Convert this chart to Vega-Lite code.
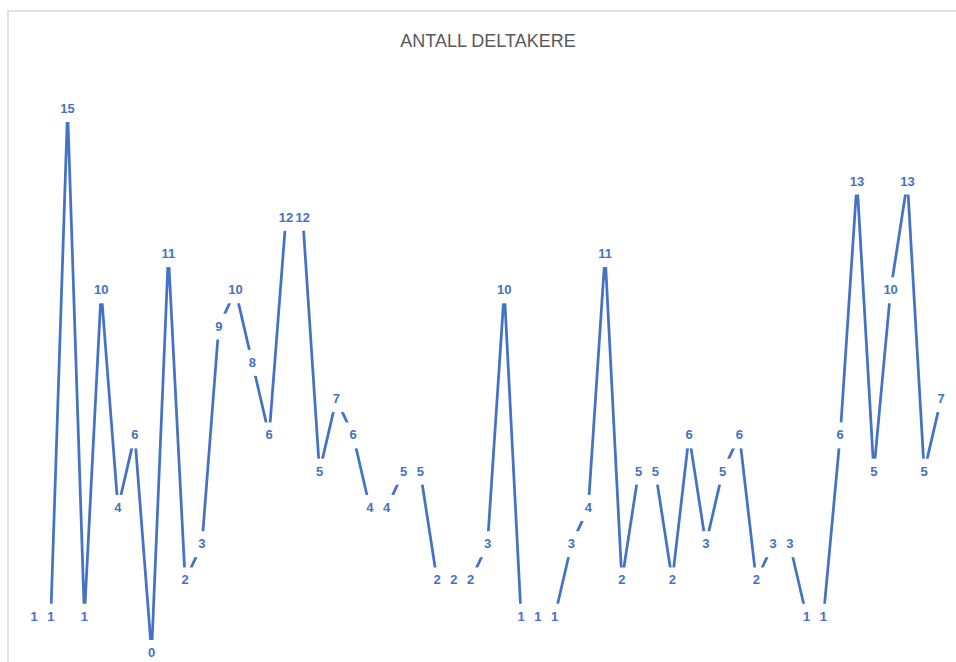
{
  "$schema": "https://vega.github.io/schema/vega-lite/v6.json",
  "width": 960,
  "height": 660,
  "autosize": {"type": "none"},
  "padding": {"left": 8, "top": 11, "right": 0, "bottom": 0},
  "background": "white",
  "title": {
    "text": "ANTALL DELTAKERE",
    "font": "Liberation Sans",
    "fontSize": 18,
    "fontWeight": "normal",
    "color": "#595959",
    "anchor": "middle",
    "baseline": "alphabetic",
    "offset": -54,
    "frame": "group"
  },
  "config": {
    "view": {"stroke": "#d9d9d9", "strokeWidth": 1.5}
  },
  "data": {
    "values": [
      {"i": 0, "v": 1}, {"i": 1, "v": 1}, {"i": 2, "v": 15}, {"i": 3, "v": 1}, {"i": 4, "v": 10},
      {"i": 5, "v": 4}, {"i": 6, "v": 6}, {"i": 7, "v": 0}, {"i": 8, "v": 11}, {"i": 9, "v": 2},
      {"i": 10, "v": 3}, {"i": 11, "v": 9}, {"i": 12, "v": 10}, {"i": 13, "v": 8}, {"i": 14, "v": 6},
      {"i": 15, "v": 12}, {"i": 16, "v": 12}, {"i": 17, "v": 5}, {"i": 18, "v": 7}, {"i": 19, "v": 6},
      {"i": 20, "v": 4}, {"i": 21, "v": 4}, {"i": 22, "v": 5}, {"i": 23, "v": 5}, {"i": 24, "v": 2},
      {"i": 25, "v": 2}, {"i": 26, "v": 2}, {"i": 27, "v": 3}, {"i": 28, "v": 10}, {"i": 29, "v": 1},
      {"i": 30, "v": 1}, {"i": 31, "v": 1}, {"i": 32, "v": 3}, {"i": 33, "v": 4}, {"i": 34, "v": 11},
      {"i": 35, "v": 2}, {"i": 36, "v": 5}, {"i": 37, "v": 5}, {"i": 38, "v": 2}, {"i": 39, "v": 6},
      {"i": 40, "v": 3}, {"i": 41, "v": 5}, {"i": 42, "v": 6}, {"i": 43, "v": 2}, {"i": 44, "v": 3},
      {"i": 45, "v": 3}, {"i": 46, "v": 1}, {"i": 47, "v": 1}, {"i": 48, "v": 6}, {"i": 49, "v": 13},
      {"i": 50, "v": 5}, {"i": 51, "v": 10}, {"i": 52, "v": 13}, {"i": 53, "v": 5}, {"i": 54, "v": 7}
    ]
  },
  "encoding": {
    "x": {"field": "i", "type": "quantitative", "axis": null,
          "scale": {"domain": [-1.548, 55.6075], "nice": false, "zero": false}},
    "y": {"field": "v", "type": "quantitative", "axis": null,
          "scale": {"domain": [-0.4963, 17.702], "nice": false, "zero": false}}
  },
  "layer": [
    {
      "mark": {"type": "line", "color": "#4472C4", "strokeWidth": 2.75, "strokeJoin": "round", "strokeCap": "round"}
    },
    {
      "mark": {"type": "point", "filled": true, "color": "white", "opacity": 1, "strokeWidth": 0, "size": 676},
      "encoding": {
        "shape": {
          "condition": {"test": "datum.v >= 10", "value": "M-1,-1H1V1H-1Z"},
          "value": "M-0.69,-1H0.69V1H-0.69Z"
        }
      }
    },
    {
      "mark": {"type": "text", "font": "Liberation Sans", "fontSize": 13, "fontWeight": "bold", "color": "#4472C4", "baseline": "middle", "align": "center"},
      "encoding": {
        "text": {"field": "v", "type": "quantitative"}
      }
    }
  ]
}
